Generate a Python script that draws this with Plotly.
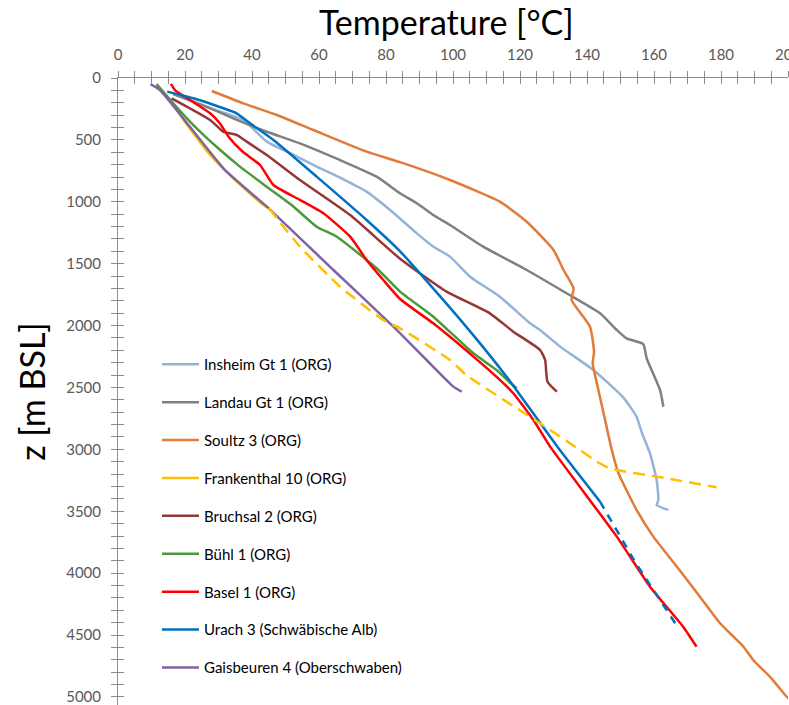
import plotly.graph_objects as go

# ---------------- data (temperature °C, depth m BSL) ----------------
insheim_T = [16.5, 26, 37.4, 44.4, 52, 59.3, 67, 74.2, 81.2, 89.2, 94.1, 99.1, 105.1, 114, 123, 126, 132, 141.9, 150.8, 154.8, 156.3, 158.8, 160.8, 161.3, 160.8, 164.3]
insheim_z = [130, 230, 339, 514, 615, 716, 815, 918, 1066, 1255, 1362, 1443, 1605, 1767, 1982, 2036, 2170, 2359, 2580, 2736, 2860, 3032, 3247, 3409, 3449, 3489]

landau_T = [16.5, 25, 34.4, 44, 54.3, 66, 77.2, 84.2, 89.2, 94.1, 99.1, 109, 122, 133.9, 143.9, 148.9, 151.8, 156.8, 157.8, 161.8, 162.8]
landau_z = [130, 215, 326, 430, 528, 660, 797, 931, 1012, 1107, 1187, 1362, 1551, 1739, 1901, 2036, 2103, 2150, 2264, 2520, 2655]

soultz_T = [28, 37.4, 47.4, 58.3, 74.2, 84.2, 99.1, 114, 122, 130, 133, 136, 135.4, 140.9, 142.1, 141.7, 143.4, 145.4, 147.4, 149.4, 154.8, 159.8, 166.8, 173.7, 179.7, 186.7, 189.6, 194.6, 199.6, 201]
soultz_z = [105, 205, 299, 420, 595, 680, 824, 999, 1161, 1389, 1551, 1699, 1793, 2009, 2211, 2305, 2520, 2763, 3005, 3193, 3489, 3705, 3947, 4190, 4405, 4594, 4701, 4836, 4998, 5030]

frank_T = [12, 17, 20, 27.5, 34.4, 43.4, 45]
frank_z = [70, 232, 355, 622, 810, 1026, 1050]
frank_ext_T = [45, 54.3, 66.3, 79.2, 84.2, 99.1, 104, 119, 129, 137.9, 142.9, 146.9, 160.8, 178.7]
frank_ext_z = [1050, 1362, 1686, 1955, 2022, 2278, 2400, 2668, 2843, 3005, 3099, 3155, 3220, 3306]

bruchsal_T = [16, 27.5, 31.4, 35.4, 38.4, 44.4, 54.3, 69.3, 84.2, 98.1, 111, 118, 126, 127.5, 128.2, 131]
bruchsal_z = [164, 339, 433, 460, 514, 622, 824, 1107, 1460, 1726, 1901, 2049, 2197, 2278, 2453, 2534]

buehl_T = [11.5, 17, 22.5, 30, 36.4, 44.4, 52, 59.3, 65.3, 77.2, 84.2, 94.1, 106.1, 113, 117, 119]
buehl_z = [50, 220, 380, 570, 716, 878, 1030, 1201, 1282, 1537, 1726, 1928, 2224, 2359, 2460, 2506]

basel_T = [15.8, 17, 21.5, 27.5, 30.4, 33, 37, 42.4, 46.4, 54.3, 61.3, 69.3, 74.2, 79.2, 84.2, 94.1, 106.1, 114, 118, 124, 129, 148.9, 158.8, 168.7, 172.7]
basel_z = [48, 97, 178, 285, 366, 474, 590, 703, 864, 985, 1093, 1282, 1470, 1632, 1785, 1982, 2251, 2439, 2547, 2763, 2978, 3705, 4109, 4432, 4594]

urach_T = [14.7, 22.5, 35.4, 39.4, 46.4, 59.3, 74.2, 84.2, 103.1, 116, 131.9, 143.9]
urach_z = [110, 164, 285, 366, 501, 797, 1147, 1400, 1982, 2413, 3005, 3422]
urach_ext_T = [143.9, 154.3, 167.3]
urach_ext_z = [3422, 3907, 4445]

gais_T = [9.7, 12.5, 31.9, 44.4, 64.3, 82.2, 92.1, 100.1, 102.6]
gais_z = [50, 97, 743, 1039, 1551, 2009, 2278, 2493, 2534]

names = ["Insheim Gt 1 (ORG)", "Landau Gt 1 (ORG)", "Soultz 3 (ORG)", "Frankenthal 10 (ORG)",
         "Bruchsal 2 (ORG)", "Bühl 1 (ORG)", "Basel 1 (ORG)", "Urach 3 (Schwäbische Alb)",
         "Gaisbeuren 4 (Oberschwaben)"]
colors = ["#95B3D7", "#808080", "#E07B39", "#FFC000", "#953735", "#4A9A3A", "#FF0000", "#0070C0", "#8064A2"]

x_ticks = list(range(0, 201, 5))
x_labels = [str(v) if v % 20 == 0 else "" for v in x_ticks]
y_ticks = list(range(0, 5001, 100))
y_labels = [str(v) if v % 500 == 0 else "" for v in y_ticks]

FONT = "Lato"
AX = "#8C8C8C"

fig = go.Figure()
series = [(insheim_T, insheim_z), (landau_T, landau_z), (soultz_T, soultz_z), (frank_T, frank_z),
          (bruchsal_T, bruchsal_z), (buehl_T, buehl_z), (basel_T, basel_z), (urach_T, urach_z),
          (gais_T, gais_z)]
for i, ((T, z), n, c) in enumerate(zip(series, names, colors)):
    fig.add_trace(go.Scatter(x=T, y=z, mode="lines", name=n, legendgroup=f"g{i}",
                             line=dict(color=c, width=2.5, shape="spline", smoothing=0.5)))

fig.add_trace(go.Scatter(x=frank_ext_T, y=frank_ext_z, mode="lines", showlegend=False, legendgroup="g3",
                         line=dict(color=colors[3], width=2.5, dash="12px,7px", shape="spline", smoothing=0.5),
                         xaxis="x2", yaxis="y2"))
fig.add_trace(go.Scatter(x=urach_ext_T, y=urach_ext_z, mode="lines", showlegend=False, legendgroup="g7",
                         line=dict(color=colors[7], width=2.5, dash="8px,7px"), xaxis="x2", yaxis="y2"))

fig.update_layout(
    width=789, height=705,
    margin=dict(l=118, r=1, t=78, b=0, autoexpand=False),
    paper_bgcolor="white", plot_bgcolor="white",
    font=dict(family=FONT, color="#000000"),
    title=dict(text="Temperature [°C]", x=0.49, xref="paper", xanchor="center",
               y=1 - 23 / 705, yref="container", yanchor="middle",
               font=dict(family=FONT, size=34, color="#000000")),
    xaxis=dict(side="top", range=[0, 200], showline=True, linecolor=AX, linewidth=1,
               tickmode="array", tickvals=x_ticks, ticktext=x_labels,
               ticks="outside", ticklen=6, tickcolor=AX, ticklabelstandoff=5,
               ticklabeloverflow="allow", automargin=False,
               tickfont=dict(family=FONT, size=15, color="#595959"),
               showgrid=False, zeroline=False, anchor="y"),
    yaxis=dict(range=[5065, 0], showline=True, linecolor=AX, linewidth=1,
               tickmode="array", tickvals=y_ticks, ticktext=y_labels,
               ticks="outside", ticklen=6, tickcolor=AX, ticklabelstandoff=7,
               ticklabeloverflow="allow", automargin=False,
               tickfont=dict(family=FONT, size=15, color="#595959"),
               showgrid=False, zeroline=False, anchor="x",
               title=dict(text="z [m BSL]", standoff=10,
                          font=dict(family=FONT, size=34, color="#000000"))),
    xaxis2=dict(overlaying="x", matches="x", side="top", anchor="y2", automargin=False,
                tickmode="array", tickvals=x_ticks, ticks="inside", ticklen=6, tickcolor=AX,
                showticklabels=False, showline=False, showgrid=False, zeroline=False),
    yaxis2=dict(overlaying="y", matches="y", side="left", anchor="x2", automargin=False,
                tickmode="array", tickvals=y_ticks, ticks="inside", ticklen=6, tickcolor=AX,
                showticklabels=False, showline=False, showgrid=False, zeroline=False),
    legend=dict(x=(157 - 118) / 670, xanchor="left", y=(705 - 348) / 627, yanchor="top",
                bgcolor="rgba(0,0,0,0)", font=dict(family=FONT, size=15, color="#000000"),
                tracegroupgap=15.4, itemwidth=37),
    showlegend=True,
)

fig.write_html("out.html")
